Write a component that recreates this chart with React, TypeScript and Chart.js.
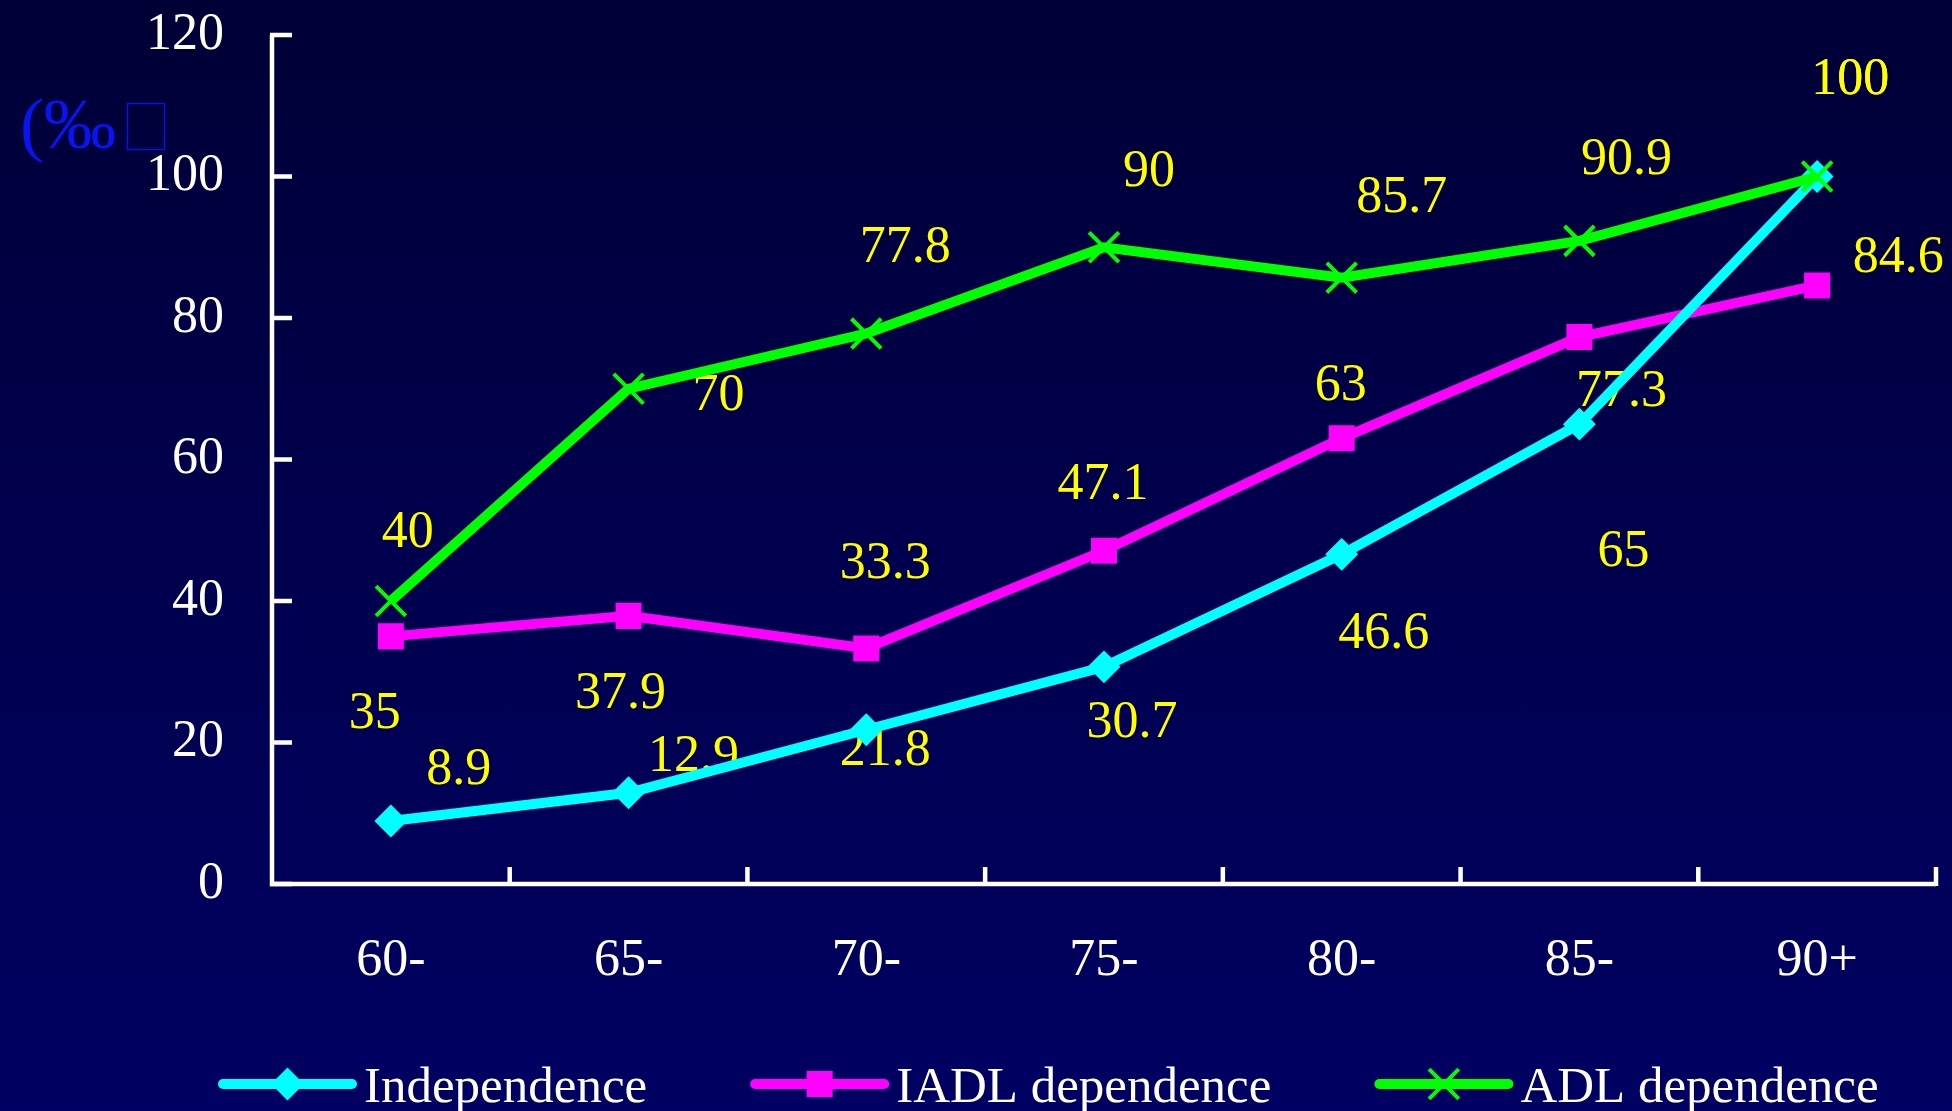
import { useEffect, useRef } from 'react';
import { Chart, registerables } from 'chart.js';
import { drawPoint } from 'chart.js/helpers';

Chart.register(...registerables);

// Age groups and prevalence per series (‰)
const ageGroups = ['60-', '65-', '70-', '75-', '80-', '85-', '90+'];
const independence = [8.9, 12.9, 21.8, 30.7, 46.6, 65, 100];
const iadlDependence = [35, 37.9, 33.3, 47.1, 63, 77.3, 84.6];
const adlDependence = [40, 70, 77.8, 90, 85.7, 90.9, 100];
const yTickValues = [0, 20, 40, 60, 80, 100, 120];
const seriesNames = ['Independence', 'IADL dependence', 'ADL dependence'];
const axisUnit = '(‰';

// Hand-placed value labels: pixel shift from each marker to the label centre
const independenceLabelShift = [[68, -55], [65, -39], [19, 18], [28, 53], [42, 76], [44, 124], [33, -100]];
const iadlLabelShift = [[-16, 74], [-8, 75], [19, -88], [-1, -69], [-1, -56], [42, 51], [81, -31]];
const adlLabelShift = [[17, -72], [90, 4], [39, -89], [45, -79], [60, -83], [47, -84], [33, -100]];
const labelShifts = [independenceLabelShift, iadlLabelShift, adlLabelShift];

const SERIF = "'Liberation Serif', 'Times New Roman', serif";
const WIDTH = 1952;
const HEIGHT = 1111;
const PLOT_TOP = 35;
const LINE_WIDTH = 10;

// Axis lines with short inward tick marks
const axesPlugin = {
  id: 'axesPlugin',
  beforeDatasetsDraw(chart: any) {
    const { ctx, chartArea } = chart;
    const x = chart.scales.x;
    const y = chart.scales.y;
    const left = chartArea.left;
    const bottom = y.getPixelForValue(0);
    const top = y.getPixelForValue(yTickValues[yTickValues.length - 1]);
    ctx.save();
    ctx.strokeStyle = '#ffffff';
    ctx.lineWidth = 4.5;
    ctx.lineCap = 'butt';
    ctx.beginPath();
    ctx.moveTo(left, top);
    ctx.lineTo(left, bottom);
    ctx.lineTo(chartArea.right, bottom);
    ctx.stroke();
    ctx.beginPath();
    yTickValues.forEach((v) => {
      const py = y.getPixelForValue(v);
      ctx.moveTo(left - 2, py);
      ctx.lineTo(left + 20, py);
    });
    for (let i = 1; i <= ageGroups.length; i++) {
      const px = x.getPixelForValue(i - 0.5);
      ctx.moveTo(px, bottom + 2);
      ctx.lineTo(px, bottom - 17);
    }
    ctx.stroke();
    ctx.restore();
  },
};

// Yellow value labels beside the markers
const valueLabelsPlugin = {
  id: 'valueLabels',
  beforeDatasetsDraw(chart: any) {
    const ctx = chart.ctx;
    ctx.save();
    ctx.font = `52px ${SERIF}`;
    ctx.fillStyle = '#ffff00';
    ctx.textAlign = 'center';
    ctx.textBaseline = 'alphabetic';
    chart.data.datasets.forEach((ds: any, di: number) => {
      const meta = chart.getDatasetMeta(di);
      const shifts = labelShifts[di];
      meta.data.forEach((pt: any, i: number) => {
        const [dx, dy] = shifts[i];
        ctx.fillText(String(ds.data[i]), pt.x + dx, pt.y + dy + 17.5);
      });
    });
    ctx.restore();
  },
};

// Unit caption at the top left and the line-and-marker legend along the bottom
const captionLegendPlugin = {
  id: 'captionLegend',
  afterDraw(chart: any) {
    const ctx = chart.ctx;
    ctx.save();
    ctx.font = `72px ${SERIF}`;
    ctx.fillStyle = '#0a14f0';
    ctx.textAlign = 'left';
    ctx.textBaseline = 'alphabetic';
    ctx.fillText(axisUnit, 20, 148);
    const w = ctx.measureText(axisUnit).width;
    ctx.strokeStyle = '#0a14e0';
    ctx.lineWidth = 1.5;
    ctx.strokeRect(20 + w + 11.5, 103.5, 37, 46);

    ctx.font = `51px ${SERIF}`;
    const cy = 1084;
    let cx = 223;
    chart.data.datasets.forEach((ds: any) => {
      ctx.strokeStyle = ds.borderColor;
      ctx.lineWidth = LINE_WIDTH;
      ctx.lineCap = 'round';
      ctx.beginPath();
      ctx.moveTo(cx, cy);
      ctx.lineTo(cx + 129, cy);
      ctx.stroke();
      ctx.lineCap = 'butt';
      ctx.fillStyle = ds.pointBackgroundColor;
      ctx.strokeStyle = ds.pointBorderColor;
      ctx.lineWidth = ds.pointBorderWidth;
      drawPoint(ctx, {
        pointStyle: ds.pointStyle,
        radius: ds.pointRadius,
        rotation: 0,
        borderWidth: ds.pointBorderWidth,
      } as any, cx + 64.5, cy);
      ctx.fillStyle = '#ffffff';
      ctx.fillText(ds.label, cx + 141, 1102);
      cx += 141 + ctx.measureText(ds.label).width + 108;
    });
    ctx.restore();
  },
};

export default function App() {
  const canvasRef = useRef<HTMLCanvasElement | null>(null);

  useEffect(() => {
    const canvas = canvasRef.current;
    if (!canvas) return;
    const chart = new Chart(canvas, {
      type: 'line',
      data: {
        labels: ageGroups,
        datasets: [
          {
            label: seriesNames[0],
            data: independence,
            borderColor: '#00ffff',
            backgroundColor: '#00ffff',
            pointBackgroundColor: '#00ffff',
            pointBorderColor: '#00ffff',
            borderWidth: LINE_WIDTH,
            pointStyle: 'rectRot',
            pointRadius: 15,
            pointBorderWidth: 2,
            order: 1,
          },
          {
            label: seriesNames[1],
            data: iadlDependence,
            borderColor: '#ff00ff',
            backgroundColor: '#ff00ff',
            pointBackgroundColor: '#ff00ff',
            pointBorderColor: '#ff00ff',
            borderWidth: LINE_WIDTH,
            pointStyle: 'rect',
            pointRadius: 17,
            pointBorderWidth: 2,
            order: 2,
          },
          {
            label: seriesNames[2],
            data: adlDependence,
            borderColor: '#00ff00',
            backgroundColor: '#00ff00',
            pointBackgroundColor: '#00ff00',
            pointBorderColor: '#00ff00',
            borderWidth: LINE_WIDTH,
            pointStyle: 'crossRot',
            pointRadius: 21,
            pointBorderWidth: 4,
            order: 0,
          },
        ],
      },
      options: {
        responsive: false,
        animation: false,
        devicePixelRatio: 1,
        clip: false as any,
        layout: { autoPadding: false, padding: { left: 0, top: PLOT_TOP, right: 16, bottom: 0 } },
        elements: { line: { tension: 0 } },
        plugins: {
          legend: { display: false },
          tooltip: { enabled: false },
          title: { display: false },
        },
        scales: {
          x: {
            type: 'category',
            offset: true,
            grid: { display: false, drawTicks: false },
            border: { display: false },
            ticks: {
              color: '#ffffff',
              font: { family: SERIF, size: 52 },
              padding: 46,
              maxRotation: 0,
              autoSkip: false,
            },
            afterFit: (s: any) => {
              s.height = 227;
            },
          },
          y: {
            min: 0,
            max: 120,
            grid: { display: false, drawTicks: false },
            border: { display: false },
            ticks: {
              color: '#ffffff',
              font: { family: SERIF, size: 52 },
              padding: 48,
              stepSize: 20,
            },
            afterBuildTicks: (s: any) => {
              s.ticks = yTickValues.map((v) => ({ value: v }));
            },
            afterFit: (s: any) => {
              s.width = 272;
              s.paddingTop = 0;
              s.paddingBottom = 0;
            },
          },
        },
      },
      plugins: [axesPlugin, valueLabelsPlugin, captionLegendPlugin],
    });
    // keep the top of the plot at PLOT_TOP whatever extra space the layout reserves
    const extra = chart.chartArea.top - PLOT_TOP;
    if (Math.abs(extra) > 0.5) {
      (chart.options.layout as any).padding.top = PLOT_TOP - extra;
      chart.update();
    }
    return () => chart.destroy();
  }, []);

  return (
    <div
      style={{
        position: 'absolute',
        left: 0,
        top: 0,
        width: WIDTH,
        height: HEIGHT,
        background: 'linear-gradient(to bottom, #000036 0%, #00004c 45%, #000062 100%)',
      }}
    >
      <canvas ref={canvasRef} width={WIDTH} height={HEIGHT} style={{ display: 'block' }} />
    </div>
  );
}
